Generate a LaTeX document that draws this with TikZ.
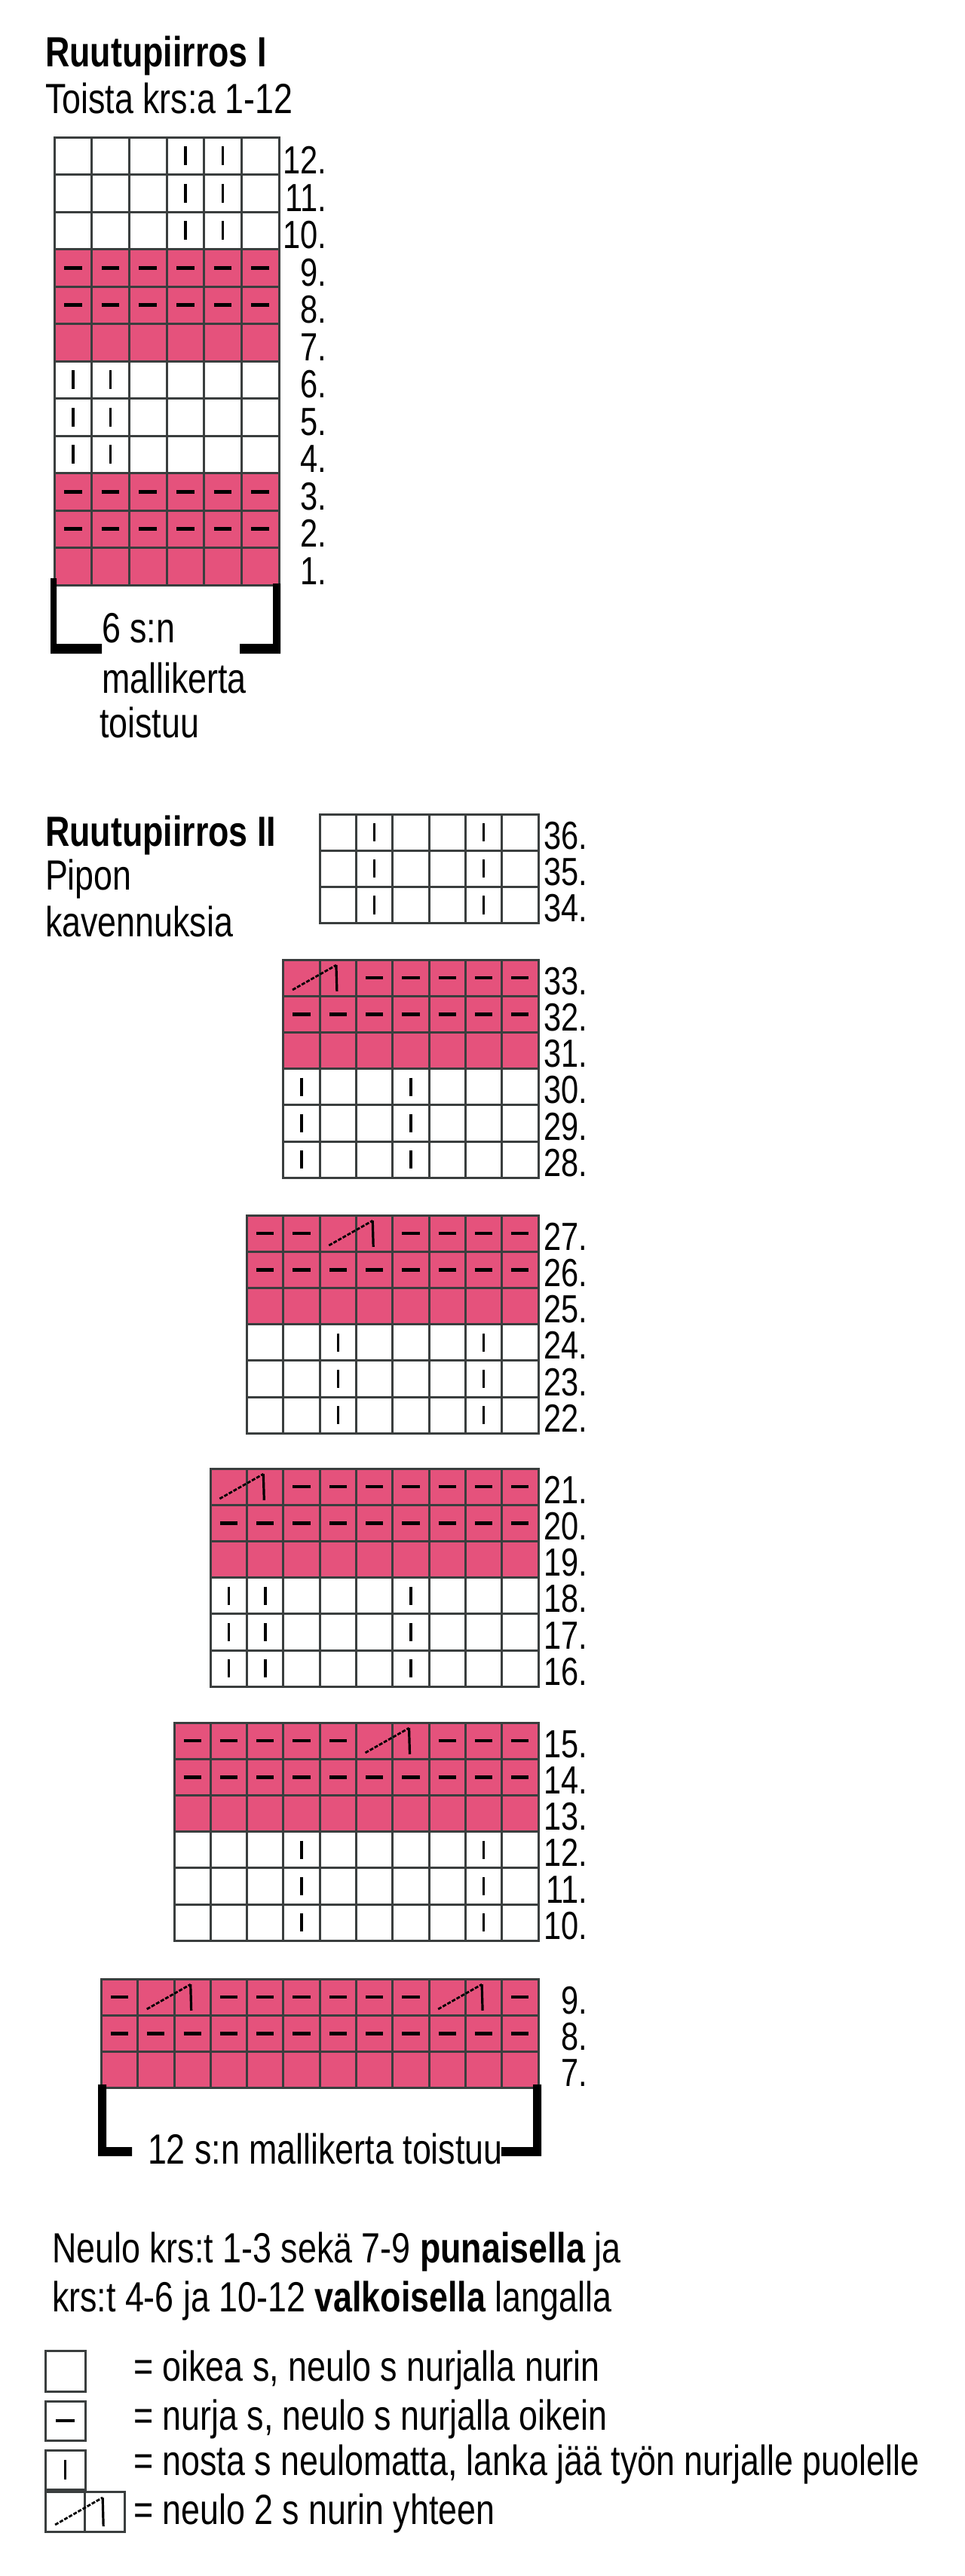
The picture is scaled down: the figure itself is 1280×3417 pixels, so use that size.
\documentclass[tikz,border=0pt]{standalone}
\usepackage{fontspec}
\setmainfont{Liberation Sans}[FakeStretch=0.8]
\definecolor{pk}{RGB}{229,82,124}
\definecolor{gl}{RGB}{58,62,62}
\tikzset{
  cell/.style={draw=gl, line width=1.5pt},
  kdash/.style={line width=2.3pt, black},
  kbar/.style={line width=1.8pt, black},
  kdiag/.style={line width=1.4pt, black, dash pattern=on 2.5pt off 1pt},
  kvert/.style={line width=1.6pt, black},
  brk/.style={fill=black},
  txt/.style={inner sep=0pt, outer sep=0pt, anchor=base west, font=\fontsize{28}{32}\selectfont},
  btxt/.style={txt, font=\fontsize{28}{32}\selectfont\bfseries},
  rowlab/.style={inner sep=0pt, outer sep=0pt, anchor=base east, font=\fontsize{26}{28}\selectfont},
}
\newcommand\ksymo[4]{}
\newcommand\ksymx[4]{}
\newcommand\ksymd[4]{\draw[kdash] ({#1+0.26*#3},{#2+0.5*#4}) -- ({#1+0.74*#3},{#2+0.5*#4});}
\newcommand\ksymb[4]{\draw[kbar] ({#1+0.5*#3},{#2+0.25*#4}) -- ({#1+0.5*#3},{#2+0.75*#4});}
\newcommand\ksymk[4]{\draw[kdiag] ({#1+0.25*#3},{#2+0.83*#4}) -- ({#1+1.45*#3},{#2+0.15*#4});
  \draw[kvert] ({#1+1.45*#3},{#2+0.15*#4}) -- ({#1+1.47*#3},{#2+0.87*#4});}
% #1 left x, #2 top y, #3 cell w, #4 cell h, #5 fill, #6 symbol list
\newcommand\krow[6]{%
  \foreach \kk [count=\ki from 0] in {#6} {\filldraw[cell, fill=#5] ({#1+\ki*#3},{#2}) rectangle ({#1+(\ki+1)*#3},{#2+#4});}
  \foreach \kk [count=\ki from 0] in {#6} {\csname ksym\kk\endcsname{#1+\ki*#3}{#2}{#3}{#4}}}
\begin{document}
\begin{tikzpicture}[x=0.5pt, y=-0.5pt]
\useasboundingbox (0,0) rectangle (1280,3417);
\fill[white] (0,0) rectangle (1280,3417);

% ---------- Chart I ----------
\node[btxt] (t1) at (60,88) {Ruutupiirros I};
\node[txt] (t2) at (60,150) {Toista krs:a 1-12};
\def\cw{49.67}\def\ch{49.5}
\krow{72}{182+0*\ch}{\cw}{\ch}{white}{o,o,o,b,b,o}
\krow{72}{182+1*\ch}{\cw}{\ch}{white}{o,o,o,b,b,o}
\krow{72}{182+2*\ch}{\cw}{\ch}{white}{o,o,o,b,b,o}
\krow{72}{182+3*\ch}{\cw}{\ch}{pk}{d,d,d,d,d,d}
\krow{72}{182+4*\ch}{\cw}{\ch}{pk}{d,d,d,d,d,d}
\krow{72}{182+5*\ch}{\cw}{\ch}{pk}{o,o,o,o,o,o}
\krow{72}{182+6*\ch}{\cw}{\ch}{white}{b,b,o,o,o,o}
\krow{72}{182+7*\ch}{\cw}{\ch}{white}{b,b,o,o,o,o}
\krow{72}{182+8*\ch}{\cw}{\ch}{white}{b,b,o,o,o,o}
\krow{72}{182+9*\ch}{\cw}{\ch}{pk}{d,d,d,d,d,d}
\krow{72}{182+10*\ch}{\cw}{\ch}{pk}{d,d,d,d,d,d}
\krow{72}{182+11*\ch}{\cw}{\ch}{pk}{o,o,o,o,o,o}
\foreach \n [count=\r] in {12,11,10,9,8,7,6,5,4,3,2,1}
  \node[rowlab] (a\n) at (433,{182+\r*\ch-1}) {\n.};
\fill[brk] (67,767) -- (75,767) -- (75,854) -- (135,854) -- (135,867) -- (67,867) -- cycle;
\fill[brk] (362,774) -- (372,774) -- (372,867) -- (318,867) -- (318,854) -- (362,854) -- cycle;
\node[txt] (t3) at (135,852) {6 s:n};
\node[txt] (t4) at (135,919) {mallikerta};
\node[txt] (t5) at (132,978) {toistuu};

% ---------- Chart II ----------
\node[btxt] (t6) at (60,1122) {Ruutupiirros II};
\node[txt] (t7) at (60,1180) {Pipon};
\node[txt] (t8) at (60,1242) {kavennuksia};
\def\dw{48.3}\def\dh{48.2}
% block A
\krow{714-6*\dw}{1080+0*\dh}{\dw}{\dh}{white}{o,b,o,o,b,o}
\krow{714-6*\dw}{1080+1*\dh}{\dw}{\dh}{white}{o,b,o,o,b,o}
\krow{714-6*\dw}{1080+2*\dh}{\dw}{\dh}{white}{o,b,o,o,b,o}
\foreach \n [count=\r] in {36,35,34}
  \node[rowlab] (b\n) at (779,{1080+\r*\dh-2}) {\n.};
% block B
\krow{714-7*\dw}{1273+0*\dh}{\dw}{\dh}{pk}{k,x,d,d,d,d,d}
\krow{714-7*\dw}{1273+1*\dh}{\dw}{\dh}{pk}{d,d,d,d,d,d,d}
\krow{714-7*\dw}{1273+2*\dh}{\dw}{\dh}{pk}{o,o,o,o,o,o,o}
\krow{714-7*\dw}{1273+3*\dh}{\dw}{\dh}{white}{b,o,o,b,o,o,o}
\krow{714-7*\dw}{1273+4*\dh}{\dw}{\dh}{white}{b,o,o,b,o,o,o}
\krow{714-7*\dw}{1273+5*\dh}{\dw}{\dh}{white}{b,o,o,b,o,o,o}
\foreach \n [count=\r] in {33,32,31,30,29,28}
  \node[rowlab] (b\n) at (779,{1273+\r*\dh-2}) {\n.};
% block C
\krow{714-8*\dw}{1612+0*\dh}{\dw}{\dh}{pk}{d,d,k,x,d,d,d,d}
\krow{714-8*\dw}{1612+1*\dh}{\dw}{\dh}{pk}{d,d,d,d,d,d,d,d}
\krow{714-8*\dw}{1612+2*\dh}{\dw}{\dh}{pk}{o,o,o,o,o,o,o,o}
\krow{714-8*\dw}{1612+3*\dh}{\dw}{\dh}{white}{o,o,b,o,o,o,b,o}
\krow{714-8*\dw}{1612+4*\dh}{\dw}{\dh}{white}{o,o,b,o,o,o,b,o}
\krow{714-8*\dw}{1612+5*\dh}{\dw}{\dh}{white}{o,o,b,o,o,o,b,o}
\foreach \n [count=\r] in {27,26,25,24,23,22}
  \node[rowlab] (b\n) at (779,{1612+\r*\dh-2}) {\n.};
% block D
\krow{714-9*\dw}{1948+0*\dh}{\dw}{\dh}{pk}{k,x,d,d,d,d,d,d,d}
\krow{714-9*\dw}{1948+1*\dh}{\dw}{\dh}{pk}{d,d,d,d,d,d,d,d,d}
\krow{714-9*\dw}{1948+2*\dh}{\dw}{\dh}{pk}{o,o,o,o,o,o,o,o,o}
\krow{714-9*\dw}{1948+3*\dh}{\dw}{\dh}{white}{b,b,o,o,o,b,o,o,o}
\krow{714-9*\dw}{1948+4*\dh}{\dw}{\dh}{white}{b,b,o,o,o,b,o,o,o}
\krow{714-9*\dw}{1948+5*\dh}{\dw}{\dh}{white}{b,b,o,o,o,b,o,o,o}
\foreach \n [count=\r] in {21,20,19,18,17,16}
  \node[rowlab] (b\n) at (779,{1948+\r*\dh-2}) {\n.};
% block E
\krow{714-10*\dw}{2285+0*\dh}{\dw}{\dh}{pk}{d,d,d,d,d,k,x,d,d,d}
\krow{714-10*\dw}{2285+1*\dh}{\dw}{\dh}{pk}{d,d,d,d,d,d,d,d,d,d}
\krow{714-10*\dw}{2285+2*\dh}{\dw}{\dh}{pk}{o,o,o,o,o,o,o,o,o,o}
\krow{714-10*\dw}{2285+3*\dh}{\dw}{\dh}{white}{o,o,o,b,o,o,o,o,b,o}
\krow{714-10*\dw}{2285+4*\dh}{\dw}{\dh}{white}{o,o,o,b,o,o,o,o,b,o}
\krow{714-10*\dw}{2285+5*\dh}{\dw}{\dh}{white}{o,o,o,b,o,o,o,o,b,o}
\foreach \n [count=\r] in {15,14,13,12,11,10}
  \node[rowlab] (b\n) at (779,{2285+\r*\dh-2}) {\n.};
% block F
\krow{714-12*\dw}{2625+0*\dh}{\dw}{\dh}{pk}{d,k,x,d,d,d,d,d,d,k,x,d}
\krow{714-12*\dw}{2625+1*\dh}{\dw}{\dh}{pk}{d,d,d,d,d,d,d,d,d,d,d,d}
\krow{714-12*\dw}{2625+2*\dh}{\dw}{\dh}{pk}{o,o,o,o,o,o,o,o,o,o,o,o}
\foreach \n [count=\r] in {9,8,7}
  \node[rowlab] (b\n) at (779,{2625+\r*\dh-2}) {\n.};
\fill[brk] (130,2765) -- (141,2765) -- (141,2848) -- (175,2848) -- (175,2860) -- (130,2860) -- cycle;
\fill[brk] (707,2765) -- (718,2765) -- (718,2860) -- (665,2860) -- (665,2848) -- (707,2848) -- cycle;
\node[txt] (t9) at (196,2870) {12 s:n mallikerta toistuu};

% ---------- Instructions ----------
\node[txt] (t10) at (69,3001) {Neulo krs:t 1-3 sekä 7-9 \textbf{punaisella} ja};
\node[txt] (t11) at (69,3066) {krs:t 4-6 ja 10-12 \textbf{valkoisella} langalla};

% ---------- Legend ----------
\krow{60}{3118}{53}{54}{white}{o}
\krow{60}{3185}{53}{52}{white}{d}
\krow{60}{3250}{53}{52}{white}{b}
\krow{60}{3305}{52.5}{53}{white}{k,x}
\node[txt] (g1) at (177,3158) {= oikea s, neulo s nurjalla nurin};
\node[txt] (g2) at (177,3223) {= nurja s, neulo s nurjalla oikein};
\node[txt] (g3) at (177,3283) {= nosta s neulomatta, lanka jää työn nurjalle puolelle};
\node[txt] (g4) at (177,3348) {= neulo 2 s nurin yhteen};
\end{tikzpicture}
\end{document}
